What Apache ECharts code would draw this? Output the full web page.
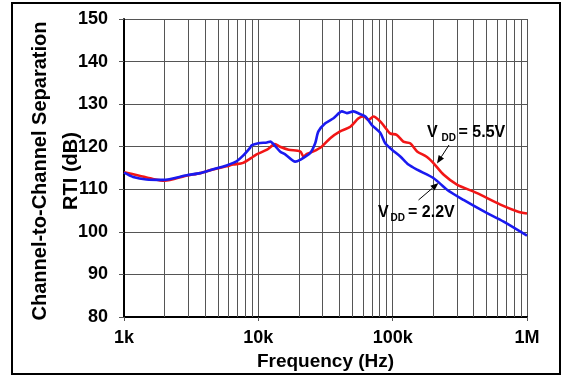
<!DOCTYPE html>
<html>
<head>
<meta charset="utf-8">
<script src="https://cdn.jsdelivr.net/npm/echarts@6/dist/echarts.min.js"></script>
<style>
html,body{margin:0;padding:0;background:#fff;}
#chart{width:569px;height:376px;}
</style>
</head>
<body>
<div id="chart"></div>
<script>
// ---- data (frequency in Hz, separation in dB) ----
const freq55 = [1000,1300,1600,2000,2900,3700,4400,5800,6500,7700,9200,9700,11600,13300,14500,16800,20500,21700,23000,25700,29600,34300,40600,48400,55700,60900,66000,72000,81000,90600,96000,107000,120000,135000,152000,180000,202000,240000,301000,425000,634000,850000,1000000];
const vdd55  = [114.0,113.2,112.5,112.0,113.2,113.8,114.5,115.4,115.8,116.2,117.7,118.2,119.3,120.6,120.0,119.3,118.9,117.7,118.3,118.9,120.0,122.0,123.6,124.7,126.7,127.1,126.3,127.1,125.9,124.0,123.1,122.8,121.2,120.8,118.9,117.6,116.1,113.4,111.1,109.1,106.4,104.8,104.3];

const freq22 = [1000,1170,1470,1960,2930,3680,4370,5800,6500,6900,7700,8700,8900,10000,11600,12300,13300,14500,16000,18800,20400,24300,26500,28000,31500,36300,41900,45600,51000,57000,62600,70000,81000,88000,98800,114000,131000,152000,202000,254000,337000,478000,670000,1000000];
const vdd22  = [113.9,112.9,112.3,112.2,113.3,113.8,114.5,115.6,116.2,116.6,117.9,119.8,120.3,120.8,121.0,121.2,120.2,118.9,118.1,116.5,116.9,118.5,120.8,123.6,125.5,126.7,128.3,127.9,128.3,127.7,127.1,125.1,123.2,120.8,119.3,117.7,115.8,114.6,112.6,109.9,107.5,104.8,102.4,99.1];

const minorFreqs = [2000,3000,4000,5000,6000,7000,8000,9000,
                    20000,30000,40000,50000,60000,70000,80000,90000,
                    200000,300000,400000,500000,600000,700000,800000,900000];
const xTickLabels = {1000:'1k',10000:'10k',100000:'100k',1000000:'1M'};
const yTicks = [80,90,100,110,120,130,140,150];

const FONT = 'Arial, "Liberation Sans", sans-serif';
const GRIDC = '#555';

const chart = echarts.init(document.getElementById('chart'));

function pairs(f, v){ return f.map((x,i)=>[x, v[i]]); }

function arrow(x1,y1,x2,y2){
  const ang = Math.atan2(y2-y1, x2-x1);
  const L = 8, W = 3.2;
  const bx = x2 - L*Math.cos(ang), by = y2 - L*Math.sin(ang);
  const px = -Math.sin(ang)*W, py = Math.cos(ang)*W;
  return [
    {type:'line', shape:{x1:x1,y1:y1,x2:bx,y2:by}, style:{stroke:'#000', lineWidth:1}, z:100},
    {type:'polygon', shape:{points:[[x2,y2],[bx+px,by+py],[bx-px,by-py]]}, style:{fill:'#000'}, z:100}
  ];
}
function txt(t, x, y, size){
  return {type:'text', x:0, y:0, z:100, style:{text:t, x:x, y:y, fill:'#000', fontSize:size, fontWeight:'bold', fontFamily:FONT, align:'left', verticalAlign:'middle'}};
}

const option = {
  backgroundColor:'#fff',
  animation:false,
  grid:{left:124, right:42, top:19, bottom:59, containLabel:false},
  xAxis:{
    type:'log', logBase:10, min:1000, max:1000000,
    name:'Frequency (Hz)', nameLocation:'middle', nameGap:35, nameMoveOverlap:false,
    nameTextStyle:{fontSize:19, fontWeight:'bold', fontFamily:FONT, color:'#000'},
    axisLine:{show:true, onZero:false, lineStyle:{color:'#000', width:2}},
    axisTick:{show:true, length:4, lineStyle:{color:GRIDC}},
    axisLabel:{margin:12, fontSize:18, fontWeight:'bold', fontFamily:FONT, color:'#000',
               formatter:v=>xTickLabels[Math.round(v)] || ''},
    splitLine:{show:true, lineStyle:{color:GRIDC, width:1}},
    minorTick:{show:false}, minorSplitLine:{show:false}
  },
  yAxis:{
    type:'value', min:yTicks[0], max:yTicks[yTicks.length-1], interval:10,
    name:'Channel-to-Channel Separation\nRTI (dB)', nameLocation:'middle', nameGap:37, nameRotate:90, nameMoveOverlap:false,
    nameTextStyle:{fontSize:20, fontWeight:'bold', fontFamily:FONT, color:'#000', lineHeight:31, padding:[0,6,0,0]},
    axisLine:{show:true, lineStyle:{color:'#000', width:2}},
    axisTick:{show:true, length:5, lineStyle:{color:GRIDC}},
    axisLabel:{margin:16, fontSize:18, fontWeight:'bold', fontFamily:FONT, color:'#000'},
    splitLine:{show:true, lineStyle:{color:GRIDC, width:1}}
  },
  series:[
    {
      name:'VDD = 5.5V', type:'line', data:pairs(freq55, vdd55), showSymbol:false, smooth:0.25,
      lineStyle:{color:'#f21616', width:2.6}, itemStyle:{color:'#f21616'}, z:5,
      markLine:{silent:true, symbol:['none','none'], label:{show:false},
        lineStyle:{color:GRIDC, width:1, type:'solid'},
        data:minorFreqs.map(f=>({xAxis:f})), z:1, animation:false}
    },
    {
      name:'VDD = 2.2V', type:'line', data:pairs(freq22, vdd22), showSymbol:false, smooth:0.25,
      lineStyle:{color:'#1a1af0', width:2.6}, itemStyle:{color:'#1a1af0'}, z:6
    }
  ],
  graphic:[
    {type:'rect', shape:{x:12, y:3, width:548, height:371}, style:{fill:'none', stroke:'#000', lineWidth:2}, z:100},
    txt('V', 427, 132.5, 16), txt('DD', 441.5, 138, 10), txt('= 5.5V', 458.5, 132.5, 16),
    ...arrow(449, 145, 437, 163.5),
    txt('V', 378, 213, 16), txt('DD', 390.5, 218, 10), txt('= 2.2V', 408, 213, 16),
    ...arrow(418.5, 200, 438.5, 183)
  ]
};
chart.setOption(option);
</script>
</body>
</html>
